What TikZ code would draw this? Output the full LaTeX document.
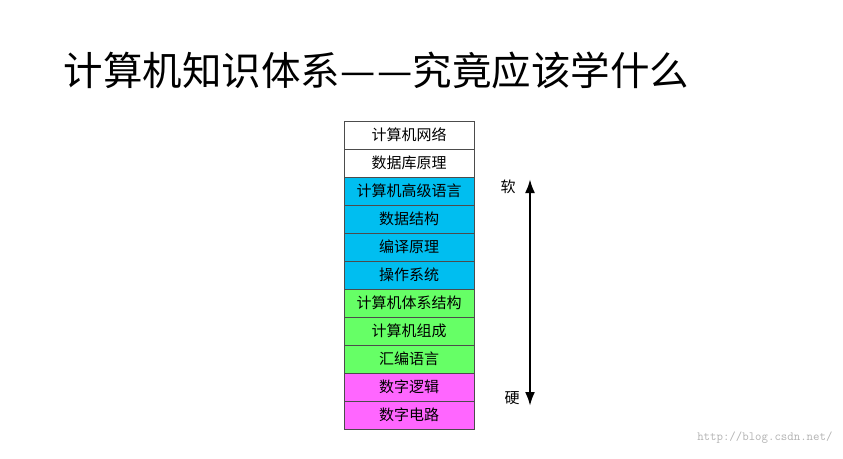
\documentclass[tikz,border=0pt]{standalone}
\usepackage{fontspec}
\newfontfamily\cjk{Noto Sans CJK SC}
\usetikzlibrary{arrows.meta}
\definecolor{softblue}{RGB}{0,190,240}
\definecolor{hwgreen}{RGB}{102,255,102}
\definecolor{logicpink}{RGB}{255,102,255}
\tikzset{
    layer/.style={draw=black!70, line width=0.6pt, minimum width=130pt, minimum height=28pt,
        inner sep=0pt, font=\cjk\fontsize{15}{15}\selectfont},
}
\begin{document}
\begin{tikzpicture}[x=1pt, y=-1pt]
    \useasboundingbox (0,0) rectangle (843,458);

    % Title
    \node[anchor=west, font=\cjk\fontsize{39.5}{40}\selectfont] (title) at (60,70)
        {计算机知识体系—\kern2pt—究竟应该学什么};

    % Layers, top to bottom
    \foreach \txt/\col [count=\i] in {计算机网络/white, 数据库原理/white,
        计算机高级语言/softblue, 数据结构/softblue, 编译原理/softblue, 操作系统/softblue,
        计算机体系结构/hwgreen, 计算机组成/hwgreen, 汇编语言/hwgreen,
        数字逻辑/logicpink, 数字电路/logicpink} {
        \node[layer, fill=\col] (r\i) at (409, 107+28*\i) {\txt};
    }

    % Soft / hard scale
    \coordinate (soft) at (530,179);
    \coordinate (hard) at (530,406);
    \draw[{Latex[length=14pt,width=10pt]}-{Latex[length=14pt,width=10pt]}, line width=2.4pt] (soft) -- (hard);
    \node[font=\cjk\fontsize{15}{15}\selectfont] (softlbl) at (508,187) {软};
    \node[font=\cjk\fontsize{15}{15}\selectfont] (hardlbl) at (512,398) {硬};

    % Watermark
    \node[anchor=east, text=black!30, font=\ttfamily\fontsize{12.5}{12.5}\selectfont] (mark) at (836,438)
        {http://blog.csdn.net/};
\end{tikzpicture}
\end{document}
